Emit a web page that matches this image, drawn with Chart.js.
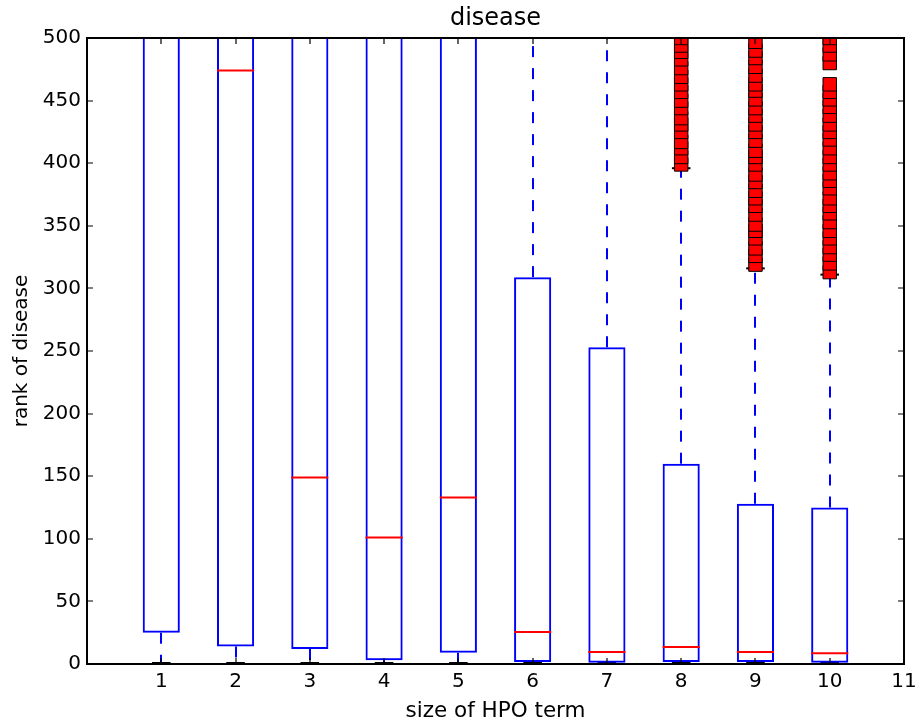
<!DOCTYPE html>
<html>
<head>
<meta charset="utf-8">
<title>disease</title>
<script src="https://cdn.jsdelivr.net/npm/chart.js@4.4.1/dist/chart.umd.min.js"></script>
<style>
    html, body { margin: 0; padding: 0; background: #fff; }
    #wrap { width: 920px; height: 726px; }
</style>
</head>
<body>
<div id="wrap"><canvas id="boxChart" width="920" height="726"></canvas></div>
<script>
// Размер HPO-терма (позиции ящиков)
const positions = [1, 2, 3, 4, 5, 6, 7, 8, 9, 10];
const xTicks = [0, 1, 2, 3, 4, 5, 6, 7, 8, 9, 10, 11];
const yTicks = [0, 50, 100, 150, 200, 250, 300, 350, 400, 450, 500];

// Квартили, медианы и усы по каждому размеру
const q1 = [25, 14, 12, 3, 9, 1.5, 1, 1.5, 1.5, 1];
const medians = [540, 474, 149, 101, 133, 25.5, 9.6, 13.6, 9.5, 8.5];
const q3 = [620, 640, 610, 630, 615, 309, 253, 160, 128, 125];
const whiskerLow = [0, 0, 0, 0, 0, 0, 0, 0, 0, 0];
const whiskerHigh = [900, 900, 900, 900, 900, 820, 780, 396, 316, 311];

// Выбросы (ранги выше верхнего уса)
const outliers8 = [399, 405, 412, 417, 425, 431, 436, 444, 450, 457, 463, 469, 476, 483, 489, 494, 500];
const outliers9 = [319, 326, 332, 340, 346, 351, 359, 366, 372, 378, 385, 391, 399, 405, 410, 418,
    425, 431, 438, 444, 451, 458, 463, 470, 477, 484, 490, 497];
const outliers10 = [313, 320, 327, 333, 340, 346, 353, 360, 366, 372, 380, 386, 392, 399, 405, 412,
    419, 425, 431, 438, 445, 451, 457, 463, 480, 487, 494, 500];

const FONT = 'DejaVu Sans';
const BOX_HALF = 0.25;   // полуширина ящика в единицах оси x
const CAP_HALF = 0.125;
const LINE_W = 2;

const boxData = positions.map((p, i) => ({ x: p, y: [q1[i], q3[i]] }));
const outlierData = []
    .concat(outliers8.map(v => ({ x: 8, y: v })))
    .concat(outliers9.map(v => ({ x: 9, y: v })))
    .concat(outliers10.map(v => ({ x: 10, y: v })));

function clipToArea(ctx, area) {
    ctx.beginPath();
    ctx.rect(area.left, area.top, area.right - area.left, area.bottom - area.top);
    ctx.clip();
}

// Усы и засечки рисуем под выбросами, медианы поверх ящиков
const boxPlotParts = {
    id: 'boxPlotParts',
    beforeDatasetsDraw(chart) {
        const { ctx, chartArea, scales: { x, y } } = chart;
        ctx.save();
        clipToArea(ctx, chartArea);
        ctx.lineWidth = LINE_W;
        positions.forEach((p, i) => {
            const px = Math.round(x.getPixelForValue(p));
            // усы
            ctx.strokeStyle = '#0000ff';
            ctx.setLineDash([11, 11]);
            ctx.beginPath();
            ctx.moveTo(px, y.getPixelForValue(q3[i]));
            ctx.lineTo(px, y.getPixelForValue(whiskerHigh[i]));
            ctx.stroke();
            ctx.beginPath();
            ctx.moveTo(px, y.getPixelForValue(q1[i]));
            ctx.lineTo(px, y.getPixelForValue(whiskerLow[i]));
            ctx.stroke();
            // засечки
            ctx.setLineDash([]);
            ctx.strokeStyle = '#000';
            const c0 = x.getPixelForValue(p - CAP_HALF);
            const c1 = x.getPixelForValue(p + CAP_HALF);
            [whiskerLow[i], whiskerHigh[i]].forEach(v => {
                const py = Math.min(y.getPixelForValue(v), chartArea.bottom - 1);
                ctx.beginPath();
                ctx.moveTo(c0, py);
                ctx.lineTo(c1, py);
                ctx.stroke();
            });
        });
        ctx.restore();
    },
    afterDatasetsDraw(chart) {
        const { ctx, chartArea, scales: { x, y } } = chart;
        ctx.save();
        clipToArea(ctx, chartArea);
        ctx.strokeStyle = '#ff0000';
        ctx.lineWidth = LINE_W;
        positions.forEach((p, i) => {
            const py = y.getPixelForValue(medians[i]);
            ctx.beginPath();
            ctx.moveTo(x.getPixelForValue(p - BOX_HALF), py);
            ctx.lineTo(x.getPixelForValue(p + BOX_HALF), py);
            ctx.stroke();
        });
        ctx.restore();
    },
    afterDraw(chart) {
        // рамка и засечки внутрь, как в matplotlib
        const { ctx, chartArea: a, scales: { x, y } } = chart;
        ctx.save();
        ctx.strokeStyle = '#000';
        ctx.lineWidth = 2;
        ctx.strokeRect(a.left, a.top, a.right - a.left, a.bottom - a.top);
        ctx.lineWidth = 1.2;
        xTicks.forEach(t => {
            const px = Math.round(x.getPixelForValue(t));
            ctx.beginPath();
            ctx.moveTo(px, a.bottom); ctx.lineTo(px, a.bottom - 6);
            ctx.moveTo(px, a.top); ctx.lineTo(px, a.top + 6);
            ctx.stroke();
        });
        yTicks.forEach(t => {
            const py = Math.round(y.getPixelForValue(t));
            ctx.beginPath();
            ctx.moveTo(a.left, py); ctx.lineTo(a.left + 6, py);
            ctx.moveTo(a.right, py); ctx.lineTo(a.right - 6, py);
            ctx.stroke();
        });
        ctx.restore();
    }
};

const ctx = document.getElementById('boxChart').getContext('2d');
new Chart(ctx, {
    type: 'bar',
    data: {
        datasets: [
            {
                type: 'scatter',
                label: 'outliers',
                data: outlierData,
                xAxisID: 'x',
                yAxisID: 'y',
                pointStyle: 'rect',
                pointRadius: 9.5,
                backgroundColor: '#ff0000',
                borderColor: '#000000',
                borderWidth: 1,
                clip: 0,
                order: 0
            },
            {
                type: 'bar',
                label: 'boxes',
                data: boxData,
                xAxisID: 'x',
                yAxisID: 'y',
                backgroundColor: 'rgba(0,0,0,0)',
                borderColor: '#0000ff',
                borderWidth: LINE_W,
                borderSkipped: false,
                categoryPercentage: 1,
                barPercentage: 0.5,
                clip: 0,
                order: 1
            }
        ]
    },
    plugins: [boxPlotParts],
    options: {
        responsive: false,
        animation: false,
        layout: { padding: { left: 0, right: 16, top: 0, bottom: 0 } },
        plugins: {
            legend: { display: false },
            tooltip: { enabled: false }
        },
        scales: {
            x: {
                type: 'linear',
                min: 0,
                max: 11,
                offset: false,
                afterBuildTicks: scale => { scale.ticks = xTicks.map(v => ({ value: v })); },
                afterFit: scale => {
                    scale.height = 62;
                    scale.paddingLeft = 0;
                    scale.paddingRight = 0;
                },
                grid: { display: false, drawTicks: false },
                border: { display: false },
                ticks: {
                    color: '#000',
                    padding: 6,
                    autoSkip: false,
                    maxRotation: 0,
                    font: { family: FONT, size: 20 },
                    callback: v => (v === 0 ? '' : v)
                },
                title: {
                    display: true,
                    text: 'size of HPO term',
                    color: '#000',
                    font: { family: FONT, size: 21.5 },
                    padding: { top: 0, bottom: 2 }
                }
            },
            // верхняя ось только для заголовка над областью графика
            xTop: {
                type: 'linear',
                position: 'top',
                min: 0,
                max: 11,
                afterFit: scale => {
                    scale.height = 38;
                    scale.paddingLeft = 0;
                    scale.paddingRight = 0;
                },
                grid: { display: false, drawTicks: false },
                border: { display: false },
                ticks: { display: false },
                title: {
                    display: true,
                    text: 'disease',
                    color: '#000',
                    font: { family: FONT, size: 24, lineHeight: 1.2 },
                    padding: { top: 4, bottom: 0 }
                }
            },
            y: {
                min: 0,
                max: 500,
                afterBuildTicks: scale => { scale.ticks = yTicks.map(v => ({ value: v })); },
                afterFit: scale => { scale.width = 87; },
                grid: { display: false, drawTicks: false },
                border: { display: false },
                ticks: {
                    color: '#000',
                    padding: 6,
                    font: { family: FONT, size: 20 }
                },
                title: {
                    display: true,
                    text: 'rank of disease',
                    color: '#000',
                    font: { family: FONT, size: 20 },
                    padding: { top: 10, bottom: 0 }
                }
            }
        }
    }
});
</script>
</body>
</html>
